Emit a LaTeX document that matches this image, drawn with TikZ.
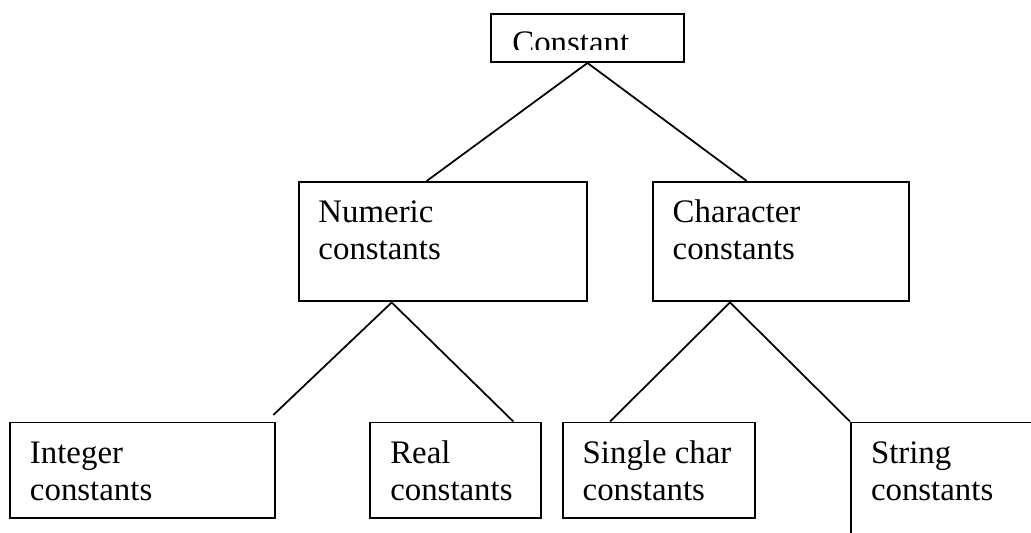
\documentclass[tikz,border=0pt]{standalone}
\usepackage{fontspec}
\setmainfont{Liberation Serif}
\usetikzlibrary{calc}

\begin{document}
\begin{tikzpicture}[x=0.02cm, y=-0.02cm]
	\tikzset{boite/.style={draw=black, line width=0.04cm, anchor=north west, align=flush left, inner xsep=0.4cm, inner ysep=0cm, text height=0.814cm, font=\fontsize{18.7pt}{21pt}\selectfont},
		trait/.style={line width=0.035cm}};
	\useasboundingbox (0,0) rectangle (1031,533);
	\clip (0,0) rectangle (1031,533);

	\node[boite, minimum width=3.86cm, minimum height=0.966cm] (c) at (490,12.7) {};
	\begin{scope}
		\clip (490,12.7) rectangle (683,50);
		\node[anchor=base west, inner sep=0cm, font=\fontsize{18.7pt}{21pt}\selectfont] (ct) at (512,53.3) {Constant};
	\end{scope}

	\node[boite, text width=4.98cm, text depth=1.576cm] (num) at (297.5,181) {Numeric\\constants};
	\node[boite, text width=4.326cm, text depth=1.576cm] (car) at (651.7,181) {Character\\constants};

	\node[boite, text width=4.5cm, text depth=1.1cm] (ent) at (9,421.5) {Integer\\constants};
	\node[boite, text width=2.614cm, text depth=1.1cm] (reel) at (369.3,421.5) {Real\\constants};
	\node[boite, text width=3.046cm, text depth=1.1cm] (simple) at (561.7,421.5) {Single char\\constants};
	\node[boite, text width=4.2cm, text depth=2cm] (chaine) at (850,421.5) {String\\constants};

	\coordinate (e) at (273.3,415);

	\draw[trait] (c.south) -- ($(num.north west)+(129.2,0)$);
	\draw[trait] (c.south) -- ($(car.north west)+(95,0)$);
	\draw[trait] ($(num.south west)+(94.2,0)$) -- (e);
	\draw[trait] ($(num.south west)+(94.2,0)$) -- ($(reel.north west)+(144,0)$);
	\draw[trait] ($(car.south west)+(78.3,0)$) -- ($(simple.north west)+(48.3,0)$);
	\draw[trait] ($(car.south west)+(78.3,0)$) -- (chaine.north west);
\end{tikzpicture}
\end{document}
